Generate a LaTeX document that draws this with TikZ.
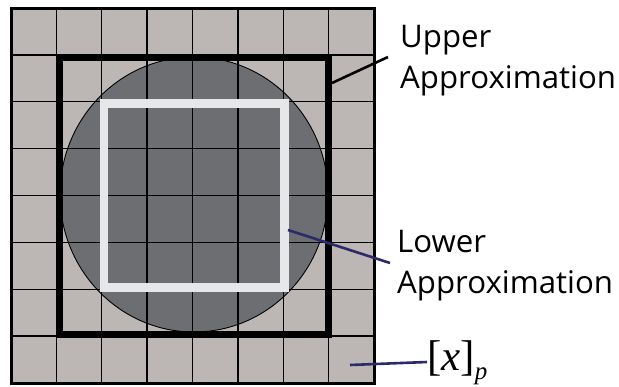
\documentclass[tikz,border=0pt]{standalone}
\usepackage{fontspec}
\setmainfont{Open Sans}
\newfontfamily\xpfont{Liberation Serif}
\definecolor{cellgray}{HTML}{BCB7B5}
\definecolor{darkgray2}{HTML}{6D6E71}
\definecolor{lowerwhite}{HTML}{E6E7E8}
\definecolor{navy}{HTML}{2B2A6B}
\begin{document}
\begin{tikzpicture}[x=1pt,y=-1pt,
  gridline/.style={black,line width=1.4pt},
  label/.style={font=\fontsize{31.2}{36}\selectfont,anchor=base west,inner sep=0pt},
  connector/.style={line width=2.6pt}]
\useasboundingbox (0,0) rectangle (619,386);
% background cells
\fill[cellgray] (11,8) rectangle (374,383);
% circle (set x)
\fill[darkgray2] (194,194.5) ellipse[x radius=134pt, y radius=137.5pt];
\draw[black,line width=0.9pt] (194,194.5) ellipse[x radius=134pt, y radius=137.5pt];
% grid lines
\foreach \i in {1,...,7}{
  \draw[gridline] ({11+45.375*\i},8) -- ({11+45.375*\i},383);
  \draw[gridline] (11,{8+46.875*\i}) -- (374,{8+46.875*\i});
}
\draw[black,line width=3pt] (11,8) rectangle (374,383);
% upper approximation
\draw[black,line width=7pt] (59,57) rectangle (328.5,334);
% lower approximation
\draw[lowerwhite,line width=8.5pt] (104,103.5) rectangle (284.5,287.5);
% labels
\node[label] (upper1) at (400,47) {Upper};
\node[label] (upper2) at (400,88) {Approximation};
\node[label] (lower1) at (397,252) {Lower};
\node[label] (lower2) at (397,293) {Approximation};
\node[anchor=base west,inner sep=0pt,font=\xpfont\fontsize{43}{45}\selectfont] (xp) at (427,370)
  {[\textit{x}]\raisebox{-9.5pt}{\fontsize{25}{26}\selectfont\textit{p}}};
% connectors
\coordinate (ua) at (332,83);
\coordinate (ub) at (388,57);
\coordinate (la) at (288,230);
\coordinate (lb) at (390,263);
\coordinate (xa) at (350,365);
\coordinate (xb) at (427,362);
\draw[connector,black] (ua) -- (ub);
\draw[connector,navy] (la) -- (lb);
\draw[connector,navy] (xa) -- (xb);
\end{tikzpicture}
\end{document}
